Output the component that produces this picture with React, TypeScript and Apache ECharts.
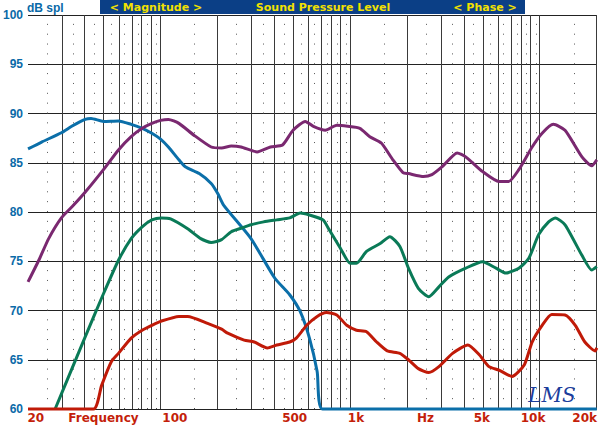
import React, { useEffect, useRef } from "react";
import * as echarts from "echarts";

// ---- data ----
const blueHz = [20, 23.6, 30, 34, 40, 43, 50, 60, 70, 80, 90, 100, 110, 125, 135, 160, 185, 200, 215, 300, 400, 480, 545, 610, 670, 715, 20000];
const blueDb = [86.4, 87.1, 88.05, 88.7, 89.4, 89.5, 89.2, 89.25, 88.9, 88.5, 88.0, 87.4, 86.6, 85.3, 84.6, 83.9, 82.9, 81.9, 80.7, 77.3, 73.3, 71.6, 69.9, 67.2, 63.8, 60, 60];

const purpleHz = [20, 22.8, 25.7, 30, 34.8, 40, 50, 60, 70, 80, 90, 100, 110, 125, 150, 185, 210, 236, 266, 323, 380, 440, 500, 580, 640, 740, 850, 970, 1125, 1270, 1460, 1680, 1900, 2030, 2440, 2700, 3060, 3670, 4070, 5000, 6100, 6860, 7760, 9120, 10300, 11800, 13600, 16700, 18800, 20000];
const purpleDb = [72.9, 75.1, 77.3, 79.4, 80.7, 82.0, 84.3, 86.3, 87.65, 88.5, 89.0, 89.3, 89.4, 89.0, 87.8, 86.6, 86.5, 86.7, 86.6, 86.1, 86.6, 86.8, 88.3, 89.2, 88.7, 88.3, 88.8, 88.7, 88.5, 87.65, 87.0, 85.3, 84.0, 83.9, 83.6, 83.8, 84.6, 86.0, 85.6, 84.1, 83.1, 83.1, 84.3, 86.6, 88.0, 88.9, 88.3, 85.6, 84.7, 85.3];

const greenHz = [27.8, 34.1, 40, 50, 60, 70, 80, 90, 101, 113, 139, 163, 185, 210, 236, 266, 300, 350, 410, 480, 545, 610, 720, 770, 890, 1000, 1080, 1220, 1440, 1620, 1830, 2030, 2290, 2600, 2940, 3310, 4070, 5000, 5880, 6620, 7760, 8760, 9870, 11140, 12080, 13600, 16700, 18800, 20000];
const greenDb = [60, 64.1, 67.3, 71.7, 75.1, 77.3, 78.5, 79.2, 79.4, 79.3, 78.3, 77.3, 76.9, 77.2, 78.0, 78.35, 78.7, 79.0, 79.2, 79.4, 79.9, 79.7, 79.2, 78.3, 76.3, 74.8, 74.8, 76.0, 76.8, 77.5, 76.5, 74.3, 72.25, 71.4, 72.4, 73.4, 74.3, 74.95, 74.3, 73.8, 74.3, 75.3, 77.7, 79.0, 79.4, 78.7, 75.6, 74.1, 74.45];

const redHz = [20, 44.3, 48.9, 55, 60, 70, 80, 90, 100, 125, 139, 177, 210, 226, 276, 312, 366, 410, 480, 520, 590, 670, 750, 850, 960, 1080, 1220, 1380, 1570, 1830, 2030, 2290, 2600, 2940, 3470, 4180, 4800, 5400, 6100, 7140, 8300, 9120, 10300, 11560, 13600, 15400, 17300, 19600, 20000];
const redDb = [60, 60, 62.4, 64.8, 65.65, 67.2, 68.0, 68.5, 68.9, 69.4, 69.4, 68.7, 68.1, 67.7, 67.0, 66.8, 66.2, 66.5, 66.8, 67.2, 68.5, 69.4, 69.8, 69.55, 68.5, 68.0, 67.85, 66.8, 65.9, 65.65, 65.0, 64.1, 63.7, 64.3, 65.65, 66.5, 65.5, 64.3, 63.95, 63.3, 64.5, 66.8, 68.5, 69.6, 69.55, 68.5, 66.8, 65.9, 66.2];

// x tick labels (anchor frequency in Hz, label text)
const xLabelHz = [22, 50, 119, 510, 1074, 2500, 4950, 9220, 17270];
const xLabelText = ["20", "Frequency", "100", "500", "1k", "Hz", "5k", "10k", "20k"];

// grid frequencies
const majorGridHz = [20, 30, 40, 50, 60, 70, 80, 90, 100, 200, 300, 400, 500, 600, 700, 800, 900, 1000, 2000, 3000, 4000, 5000, 6000, 7000, 8000, 9000, 10000, 20000];
const minorGridHz = [25, 35, 45, 55, 65, 75, 85, 95, 150, 250, 350, 450, 550, 650, 750, 850, 950, 1500, 2500, 3500, 4500, 5500, 6500, 7500, 8500, 9500, 15000];

const bannerTexts = ["< Magnitude >", "Sound Pressure Level", "< Phase >"];

const BLUE = "#0b6fa9";
const PURPLE = "#7a2870";
const GREEN = "#0a7a57";
const RED = "#c01a08";
const LABEL_BLUE = "#0a6aa8";
const LABEL_RED = "#c41e0a";

const toPts = (hz: number[], db: number[]) => hz.map((f, i) => [Math.log10(f), db[i]]);

export default function App() {
  const ref = useRef<HTMLDivElement>(null);
  useEffect(() => {
    if (!ref.current) return;
    const chart = echarts.init(ref.current, null, { renderer: "svg" });
    const gridLines: any[] = [];
    majorGridHz.forEach((f) =>
      gridLines.push({ xAxis: Math.log10(f), lineStyle: { color: "#3a3a3a", width: 1, type: "solid" } })
    );
    minorGridHz.forEach((f) =>
      gridLines.push({ xAxis: Math.log10(f), lineStyle: { color: "#555", width: 1, type: [1, 8.85] } })
    );
    const lineSeries = (name: string, hz: number[], db: number[], color: string) => ({
      name,
      type: "line",
      data: toPts(hz, db),
      showSymbol: false,
      smooth: 0.2,
      clip: false,
      lineStyle: { color, width: 3 },
      itemStyle: { color },
      z: 5,
    });
    chart.setOption({
      animation: false,
      backgroundColor: "#ffffff",
      grid: { left: 26, right: 2, top: 15, bottom: 16 },
      xAxis: {
        type: "value",
        min: Math.log10(20),
        max: Math.log10(20000),
        axisLine: { show: false },
        axisTick: { show: false },
        splitLine: { show: false },
        axisLabel: {
          customValues: xLabelHz.map((f) => Math.log10(f)),
          formatter: (v: number) => {
            let best = 0;
            let bd = Infinity;
            xLabelHz.forEach((f, i) => {
              const d = Math.abs(Math.log10(f) - v);
              if (d < bd) {
                bd = d;
                best = i;
              }
            });
            return xLabelText[best];
          },
          color: LABEL_RED,
          fontWeight: "bold",
          fontSize: 12,
          fontFamily: "DejaVu Sans",
          margin: 3,
          hideOverlap: false,
        },
      },
      yAxis: {
        type: "value",
        min: 60,
        max: 100,
        interval: 5,
        axisLine: { show: false },
        axisTick: { show: false },
        splitLine: { show: true, lineStyle: { color: "#222", width: 1 } },
        axisLabel: {
          color: LABEL_BLUE,
          fontWeight: "bold",
          fontSize: 12,
          fontFamily: "Liberation Sans",
          margin: 5,
        },
      },
      graphic: [
        {
          type: "rect",
          shape: { x: 100, y: 0, width: 425, height: 14 },
          style: { fill: "#0b3f86" },
          silent: true,
        },
        {
          type: "text",
          x: 156,
          y: 7,
          style: { text: bannerTexts[0], fill: "#f2e100", font: "bold 11px 'DejaVu Sans'", align: "center", verticalAlign: "middle" },
        },
        {
          type: "text",
          x: 323,
          y: 7,
          style: { text: bannerTexts[1], fill: "#f2e100", font: "bold 11px 'DejaVu Sans'", align: "center", verticalAlign: "middle" },
        },
        {
          type: "text",
          x: 485,
          y: 7,
          style: { text: bannerTexts[2], fill: "#f2e100", font: "bold 11px 'DejaVu Sans'", align: "center", verticalAlign: "middle" },
        },
        {
          type: "text",
          x: 27,
          y: 8,
          style: { text: "dB spl", fill: LABEL_BLUE, font: "bold 12px 'Liberation Sans'", align: "left", verticalAlign: "middle" },
        },
        {
          type: "text",
          x: 552,
          y: 395,
          z: 10,
          style: { text: "LMS", fill: "#1b3d9c", font: "italic 20px 'DejaVu Serif'", align: "center", verticalAlign: "middle" },
        },
      ],
      series: [
        {
          name: "grid",
          type: "line",
          data: [],
          silent: true,
          z: 1,
          markLine: {
            silent: true,
            symbol: "none",
            label: { show: false },
            emphasis: { disabled: true },
            data: gridLines,
          },
        },
        lineSeries("blue", blueHz, blueDb, BLUE),
        lineSeries("purple", purpleHz, purpleDb, PURPLE),
        lineSeries("green", greenHz, greenDb, GREEN),
        lineSeries("red", redHz, redDb, RED),
      ],
    });
    return () => chart.dispose();
  }, []);
  return (
    <div
      ref={ref}
      style={{ position: "absolute", left: 0, top: 0, width: 600, height: 425 }}
    />
  );
}
